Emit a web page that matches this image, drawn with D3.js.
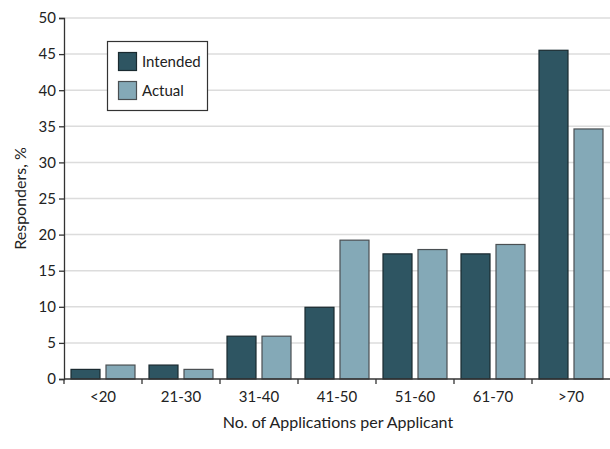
<!DOCTYPE html>
<html>
<head>
<meta charset="utf-8">
<script src="https://cdn.jsdelivr.net/npm/d3@7"></script>
<style>
  html, body { margin: 0; padding: 0; background: #fff; }
  svg { display: block; }
  text { font-family: Lato, "Open Sans", sans-serif; fill: #222; }
</style>
</head>
<body>
<svg id="chart" width="610" height="449"></svg>
<script>
const categories = ["<20", "21-30", "31-40", "41-50", "51-60", "61-70", ">70"];
const seriesNames = ["Intended", "Actual"];
const intended = [1.4, 2.0, 6.0, 10.0, 17.4, 17.4, 45.6];
const actual = [2.0, 1.4, 6.0, 19.3, 18.0, 18.7, 34.7];
const yTicks = [0, 5, 10, 15, 20, 25, 30, 35, 40, 45, 50];
const colors = { Intended: "#2e5562", Actual: "#84a9b7" };
const strokes = { Intended: "#1a2a30", Actual: "#4a4f52" };

const svg = d3.select("#chart");
const mLeft = 64, mRight = 610, mTop = 18, mBottom = 379;

const x = d3.scaleBand().domain(categories).range([mLeft, mRight]).padding(0);
const xs = d3.scaleBand().domain(seriesNames).range([0, x.bandwidth()])
  .paddingInner(5 / 35).paddingOuter(6.5 / 35);
const y = d3.scaleLinear().domain([0, 50]).range([mBottom, mTop]);

// gridlines
svg.append("g").selectAll("line").data(yTicks.filter(d => d > 0)).join("line")
  .attr("x1", mLeft).attr("x2", mRight)
  .attr("y1", d => y(d)).attr("y2", d => y(d))
  .attr("stroke", "#dcdcdc").attr("stroke-width", 1.5);

// bars
const rows = categories.map((c, i) => ({ c, vals: [
  { s: "Intended", v: intended[i] }, { s: "Actual", v: actual[i] }] }));
const g = svg.append("g").selectAll("g").data(rows).join("g")
  .attr("transform", d => `translate(${x(d.c)},0)`);
g.selectAll("rect").data(d => d.vals).join("rect")
  .attr("x", d => xs(d.s) + 0.5)
  .attr("width", xs.bandwidth() - 1)
  .attr("y", d => y(d.v) + 0.5)
  .attr("height", d => Math.max(0, y(0) - y(d.v) - 0.5))
  .attr("fill", d => colors[d.s])
  .attr("stroke", d => strokes[d.s]).attr("stroke-width", 1.2);

// y axis
const yAxis = svg.append("g").attr("transform", `translate(${mLeft},0)`)
  .call(d3.axisLeft(y).tickValues(yTicks).tickSize(5).tickPadding(3));
yAxis.select(".domain").attr("stroke", "#333").attr("stroke-width", 1.3);
yAxis.selectAll(".tick line").attr("stroke", "#333").attr("stroke-width", 1.3);
yAxis.selectAll(".tick text").attr("font-size", 15).attr("font-family", "Lato, sans-serif").attr("fill", "#222");

// x axis
const xAxis = svg.append("g").attr("transform", `translate(0,${mBottom})`)
  .call(d3.axisBottom(x).tickSize(0).tickPadding(12));
xAxis.select(".domain").remove();
svg.append("line").attr("x1", mLeft).attr("x2", mRight).attr("y1", mBottom).attr("y2", mBottom)
  .attr("stroke", "#333").attr("stroke-width", 1.3);
svg.append("g").selectAll("line").data(categories).join("line")
  .attr("x1", d => x(d)).attr("x2", d => x(d))
  .attr("y1", mBottom).attr("y2", mBottom + 5)
  .attr("stroke", "#333").attr("stroke-width", 1.3);
xAxis.selectAll(".tick text").attr("font-size", 15).attr("font-family", "Lato, sans-serif").attr("fill", "#222");

// axis titles
svg.append("text").attr("x", 338).attr("y", 428)
  .attr("text-anchor", "middle").attr("font-size", 16).text("No. of Applications per Applicant");
svg.append("text").attr("transform", `translate(26,${(mTop + mBottom) / 2}) rotate(-90)`)
  .attr("text-anchor", "middle").attr("font-size", 16).text("Responders, %");

// legend
const lg = svg.append("g").attr("transform", "translate(107.5,41.5)");
lg.append("rect").attr("width", 100).attr("height", 69)
  .attr("fill", "#fff").attr("stroke", "#333").attr("stroke-width", 1.2);
seriesNames.forEach((s, i) => {
  lg.append("rect").attr("x", 11).attr("y", 11 + i * 29).attr("width", 18).attr("height", 18)
    .attr("fill", colors[s]).attr("stroke", strokes[s]).attr("stroke-width", 1.2);
  lg.append("text").attr("x", 34.5).attr("y", 25.5 + i * 29).attr("font-size", 15).text(s);
});
</script>
</body>
</html>
